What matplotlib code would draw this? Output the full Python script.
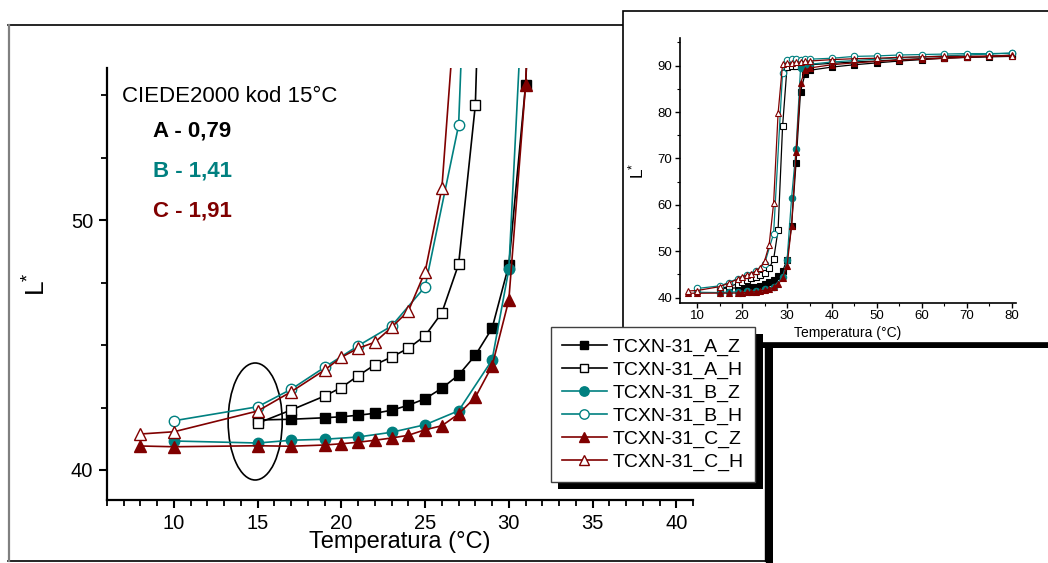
import matplotlib
matplotlib.use("Agg")
import matplotlib.pyplot as plt
from matplotlib.patches import Rectangle, Ellipse
from matplotlib.lines import Line2D
from matplotlib.ticker import MultipleLocator, FixedLocator

# ---------------- data ----------------
T_A_Z = [15, 17, 19, 20, 21, 22, 23, 24, 25, 26, 27, 28, 29, 30, 31, 32, 33, 34, 35, 40, 45, 50, 55, 60, 65, 70, 75, 80]
L_A_Z = [42.0, 42.03, 42.09, 42.13, 42.19, 42.27, 42.39, 42.59, 42.85, 43.27, 43.8, 44.59, 45.67, 48.2, 55.4, 69.0,
         84.4, 88.2, 89.0, 89.7, 90.2, 90.6, 91.0, 91.3, 91.6, 91.8, 92.0, 92.3]

T_A_H = [15, 17, 19, 20, 21, 22, 23, 24, 25, 26, 27, 28, 29, 30, 31, 32, 33, 34, 35, 40, 45, 50, 55, 60, 65, 70, 75, 80]
L_A_H = [41.87, 42.4, 42.96, 43.3, 43.77, 44.21, 44.52, 44.87, 45.37, 46.29, 48.23, 54.6, 76.9, 89.8, 89.9, 90.0,
         90.0, 90.1, 90.2, 90.5, 90.8, 91.0, 91.3, 91.5, 91.7, 91.8, 91.9, 92.0]

T_B_Z = [10, 15, 17, 19, 21, 23, 25, 27, 29, 30, 31, 32, 33, 34, 35, 40, 45, 50, 55, 60, 65, 70, 75, 80]
L_B_Z = [41.16, 41.08, 41.19, 41.23, 41.32, 41.51, 41.81, 42.37, 44.4, 48.03, 61.4, 72.0, 89.4, 89.9, 90.3, 90.8,
         91.1, 91.4, 91.7, 91.9, 92.1, 92.3, 92.5, 92.7]

T_B_H = [10, 15, 17, 19, 21, 23, 25, 27, 29, 30, 31, 32, 33, 34, 35, 40, 45, 50, 55, 60, 65, 70, 75, 80]
L_B_H = [41.97, 42.53, 43.23, 44.11, 44.97, 45.76, 47.33, 53.79, 88.5, 91.2, 91.4, 91.4, 91.3, 91.5, 91.4, 91.6,
         92.0, 92.1, 92.3, 92.4, 92.5, 92.6, 92.6, 92.7]

T_C_Z = [8, 10, 15, 17, 19, 20, 21, 22, 23, 24, 25, 26, 27, 28, 29, 30, 31, 32, 33, 34, 35, 40, 45, 50, 55, 60, 65,
         70, 75, 80]
L_C_Z = [40.96, 40.93, 40.97, 40.95, 41.0, 41.05, 41.11, 41.19, 41.28, 41.39, 41.61, 41.77, 42.24, 42.91, 44.16,
         46.8, 55.4, 71.3, 86.2, 89.0, 89.5, 90.2, 90.6, 90.9, 91.2, 91.4, 91.6, 91.8, 92.0, 92.2]

T_C_H = [8, 10, 15, 17, 19, 20, 21, 22, 23, 24, 25, 26, 27, 28, 29, 30, 31, 32, 33, 34, 35, 40, 45, 50, 55, 60, 65,
         70, 75, 80]
L_C_H = [41.44, 41.53, 42.36, 43.13, 44.0, 44.51, 44.87, 45.11, 45.71, 46.36, 47.93, 51.27, 60.3, 79.7, 90.3, 90.5,
         90.6, 90.7, 90.8, 90.9, 91.0, 91.3, 91.5, 91.6, 91.8, 91.9, 92.0, 92.0, 92.1, 92.1]

LABELS = ["TCXN-31_A_Z", "TCXN-31_A_H", "TCXN-31_B_Z", "TCXN-31_B_H", "TCXN-31_C_Z", "TCXN-31_C_H"]
NOTE_TITLE = "CIEDE2000 kod 15°C"
NOTES = ["A - 0,79", "B - 1,41", "C - 1,91"]

BLACK, TEAL, MAROON = "#000000", "#008080", "#800000"
series = [
    (T_A_Z, L_A_Z, BLACK, "s", True),
    (T_A_H, L_A_H, BLACK, "s", False),
    (T_B_Z, L_B_Z, TEAL, "o", True),
    (T_B_H, L_B_H, TEAL, "o", False),
    (T_C_Z, L_C_Z, MAROON, "^", True),
    (T_C_H, L_C_H, MAROON, "^", False),
]
msize_main = {"s": 7.0, "o": 7.5, "^": 8.0}
msize_in = {"s": 4.2, "o": 4.6, "^": 5.0}

# ---------------- figure ----------------
W, H = 1048, 563
plt.rcParams['font.family'] = ['Liberation Sans', 'DejaVu Sans']
plt.rcParams['mathtext.fontset'] = 'custom'
plt.rcParams['mathtext.rm'] = 'Liberation Sans'
plt.rcParams['mathtext.it'] = 'Liberation Sans:italic'

fig = plt.figure(figsize=(W / 100, H / 100), dpi=100)


def fx(x):
    return x / W


def fy(y):
    return 1 - y / H


def rect(x0, y0, x1, y1, **kw):
    r = Rectangle((fx(x0), fy(y1)), fx(x1) - fx(x0), fy(y0) - fy(y1),
                  transform=fig.transFigure, **kw)
    fig.add_artist(r)
    return r


def hline(x0, x1, y, **kw):
    fig.add_artist(Line2D([fx(x0), fx(x1)], [fy(y), fy(y)], transform=fig.transFigure, **kw))


def vline(x, y0, y1, **kw):
    fig.add_artist(Line2D([fx(x), fx(x)], [fy(y0), fy(y1)], transform=fig.transFigure, **kw))


# main frame + its shadow
hline(8, 766, 25, color="black", lw=1.2, zorder=-2)
hline(8, 766, 561, color="black", lw=1.2, zorder=-2)
vline(8.5, 25, 561, color="#808080", lw=1.6, zorder=-2)
vline(765, 25, 561, color="black", lw=1.0, zorder=-2)
rect(766, 31, 773, 575, facecolor="black", edgecolor="none", zorder=-2)

# ---------------- main axes ----------------
ax = fig.add_axes([fx(107), fy(500), fx(693) - fx(107), fy(68) - fy(500)], zorder=0)
ax.set_facecolor("none")
for T, L, c, m, filled in series:
    ax.plot(T, L, color=c, lw=1.2, marker=m, ms=msize_main[m],
            mfc=c if filled else "white", mec=c, mew=1.0)
ax.set_xlim(6, 41)
ax.set_ylim(38.8, 56.08)
ax.xaxis.set_major_locator(MultipleLocator(5))
ax.xaxis.set_minor_locator(MultipleLocator(1))
ax.yaxis.set_major_locator(FixedLocator([40, 50]))
ax.yaxis.set_minor_locator(MultipleLocator(2.5))
for s in ("top", "right"):
    ax.spines[s].set_visible(False)
for s in ("left", "bottom"):
    ax.spines[s].set_linewidth(1.6)
ax.tick_params(which="major", direction="out", length=6, width=1.5, labelsize=14.5, pad=4)
ax.tick_params(which="minor", direction="out", length=4, width=1.3)
ax.set_xlabel("Temperatura (°C)", fontsize=17)
ax.xaxis.set_label_coords(0.5, -0.072)
ax.set_ylabel(r"L$^{*}$", fontsize=19)
ax.yaxis.set_label_coords(-0.096, 0.5)

ax.add_patch(Ellipse((14.85, 41.94), 3.23, 4.68, fill=False, edgecolor="black", lw=1.2))

fig.text(fx(122), fy(101.7), NOTE_TITLE, fontsize=16, va="baseline", ha="left")
for txt, col, yb in zip(NOTES, [BLACK, TEAL, MAROON], [136, 176.5, 216]):
    fig.text(fx(153), fy(yb), txt, fontsize=16, fontweight="bold", color=col, va="baseline", ha="left")

# ---------------- inset ----------------
rect(623, 11, 1060, 343, facecolor="white", edgecolor="black", lw=1.2, zorder=1)
rect(630, 343, 1060, 347.5, facecolor="black", edgecolor="none", zorder=1)

ax2 = fig.add_axes([fx(680), fy(302.7), fx(1016) - fx(680), fy(38.3) - fy(302.7)], zorder=2)
ax2.set_facecolor("none")
for T, L, c, m, filled in series:
    ax2.plot(T, L, color=c, lw=0.9, marker=m, ms=msize_in[m],
             mfc=c if filled else "white", mec=c, mew=0.8)
ax2.set_xlim(6.15, 81)
ax2.set_ylim(38.9, 95.9)
ax2.xaxis.set_major_locator(MultipleLocator(10))
ax2.xaxis.set_minor_locator(MultipleLocator(5))
ax2.yaxis.set_major_locator(MultipleLocator(10))
ax2.yaxis.set_minor_locator(MultipleLocator(5))
for s in ("top", "right"):
    ax2.spines[s].set_visible(False)
for s in ("left", "bottom"):
    ax2.spines[s].set_linewidth(1.2)
ax2.tick_params(which="major", direction="out", length=3.5, width=1.0, labelsize=9.5, pad=2)
ax2.tick_params(which="minor", direction="out", length=2, width=0.8)
ax2.set_xlabel("Temperatura (°C)", fontsize=10)
ax2.xaxis.set_label_coords(0.5, -0.088)
ax2.set_ylabel(r"L$^{*}$", fontsize=12.5)
ax2.yaxis.set_label_coords(-0.1, 0.5)

# ---------------- legend ----------------
handles = [Line2D([], [], color=c, lw=1.2, marker=m, ms=msize_main[m] * 0.9,
                  mfc=c if filled else "white", mec=c, mew=1.0)
           for T, L, c, m, filled in series]
leg = fig.legend(handles, LABELS, loc="upper left",
                 bbox_to_anchor=(fx(551), fy(482), fx(755) - fx(551), fy(327) - fy(482)),
                 mode="expand", borderaxespad=0, fontsize=14, handlelength=2.3,
                 handletextpad=0.3, labelspacing=0.27, borderpad=0.56, numpoints=1,
                 fancybox=False, framealpha=1, edgecolor="#404040")
leg.get_frame().set_linewidth(1.0)
leg.set_zorder(5)
rect(558, 334, 762.5, 488.5, facecolor="black", edgecolor="none", zorder=4)

fig.savefig("out.png", dpi=100)
